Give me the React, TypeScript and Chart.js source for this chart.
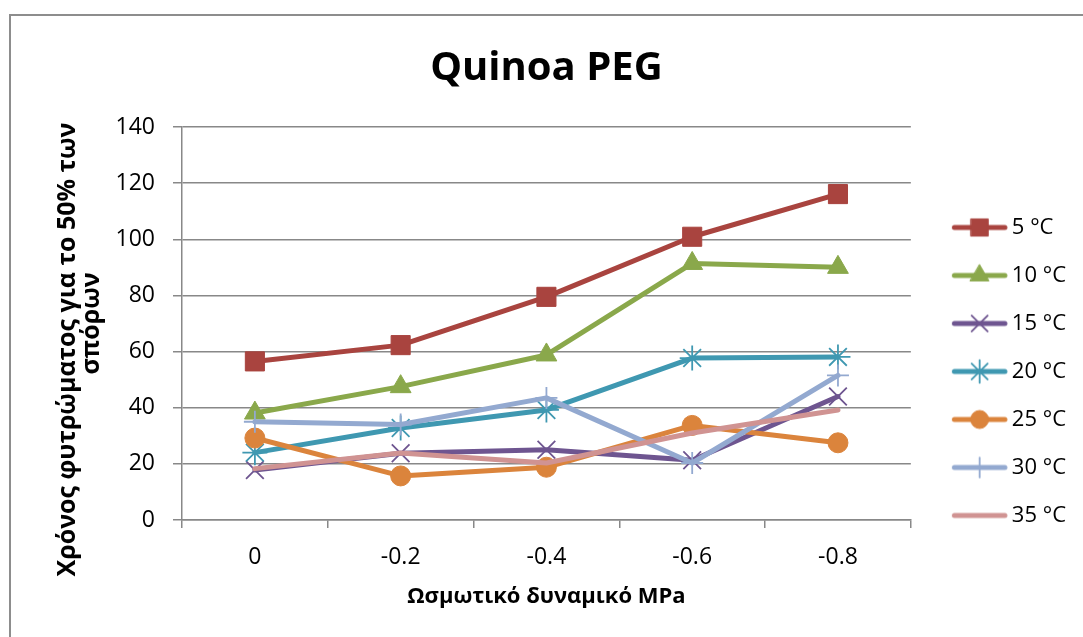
import React, { useEffect, useRef } from 'react';
import { Chart, registerables } from 'chart.js';
import { drawPoint } from 'chart.js/helpers';

Chart.register(...registerables);

const categories = ['0', '-0.2', '-0.4', '-0.6', '-0.8'];
const seriesLabels = ['5 °C', '10 °C', '15 °C', '20 °C', '25 °C', '30 °C', '35 °C'];
const t5 = [56.5, 62.3, 79.5, 100.9, 116.1];
const t10 = [38.1, 47.5, 58.8, 91.4, 90.0];
const t15 = [17.8, 23.8, 25.0, 21.3, 44.0];
const t20 = [24.0, 32.8, 39.2, 57.7, 58.1];
const t25 = [29.2, 15.7, 18.8, 33.7, 27.5];
const t30 = [35.0, 34.0, 43.5, 20.3, 51.5];
const t35 = [18.3, 23.9, 20.3, 31.0, 39.2];
const yMin = 0;
const yMax = 140;
const yStep = 20;

const NB = '\u00A0';
const titleText = 'Quinoa PEG';
const xTitle = 'Ωσμωτικό δυναμικό MPa';
const yTitle = ['Χρόνος φυτρώματος για το 50% των' + NB.repeat(8), 'σπόρων'];

const FONT = "'Open Sans', 'DejaVu Sans', sans-serif";
const colors = ['#A9443F', '#8AA84B', '#6E5590', '#3F98B1', '#DB843C', '#93A9D0', '#D09392'];
const styles: any[] = ['rect', 'triangle', 'crossRot', 'star', 'circle', 'cross', false];
const radii = [13.5, 12, 12.5, 12.5, 10, 11, 0];
const pointBorders = [1, 1, 1.8, 1.8, 1, 1.8, 0];

const BOX_W = 64;
const IMG_W = 80;
const IMG_H = 30;

function makeLegendImage(i: number) {
  const c = document.createElement('canvas');
  c.width = IMG_W;
  c.height = IMG_H;
  const ctx = c.getContext('2d')!;
  const x0 = 25.5;
  const x1 = 76;
  const cy = IMG_H / 2;
  ctx.strokeStyle = colors[i];
  ctx.lineWidth = 5;
  ctx.lineCap = 'round';
  ctx.beginPath();
  ctx.moveTo(x0, cy);
  ctx.lineTo(x1, cy);
  ctx.stroke();
  if (styles[i]) {
    ctx.fillStyle = colors[i];
    ctx.strokeStyle = colors[i];
    ctx.lineWidth = pointBorders[i];
    drawPoint(ctx, { pointStyle: styles[i], radius: radii[i] * 0.9, rotation: 0, borderWidth: pointBorders[i] } as any, (x0 + x1) / 2, cy);
  }
  return c;
}

export default function App() {
  const ref = useRef<HTMLCanvasElement>(null);
  useEffect(() => {
    const canvas = ref.current!;
    const values = [t5, t10, t15, t20, t25, t30, t35];
    const imgs = values.map((_, i) => makeLegendImage(i));
    const datasets = values.map((v, i) => ({
      label: seriesLabels[i],
      data: v,
      borderColor: colors[i],
      backgroundColor: colors[i],
      borderWidth: 5,
      borderJoinStyle: 'round' as const,
      borderCapStyle: 'round' as const,
      pointStyle: styles[i],
      pointRadius: radii[i],
      pointHoverRadius: radii[i],
      pointBorderWidth: pointBorders[i],
      pointBackgroundColor: colors[i],
      pointBorderColor: colors[i],
      tension: 0,
      order: 20 - i,
    }));
    const tickFont = { family: FONT, size: 23 };
    const chart = new Chart(canvas, {
      type: 'line',
      data: { labels: categories, datasets },
      options: {
        responsive: false,
        animation: false,
        devicePixelRatio: 1,
        layout: { padding: { left: 0, right: 7, top: 0, bottom: 0 } },
        plugins: {
          title: {
            display: true,
            fullSize: false,
            text: titleText,
            color: '#000',
            font: { family: FONT, size: 40, weight: 'bold' },
            padding: { top: 45, bottom: 34 },
          },
          legend: {
            position: 'right',
            align: 'center',
            title: { display: true, text: ' ', font: { family: FONT, size: 10, lineHeight: 1.2 }, padding: { top: 94, bottom: 0 } },
            labels: {
              usePointStyle: true,
              pointStyleWidth: BOX_W,
              padding: 26,
              color: '#000',
              font: { family: FONT, size: 22 },
              generateLabels: (ch: any) =>
                ch.data.datasets.map((ds: any, i: number) => ({
                  text: ds.label,
                  pointStyle: imgs[i],
                  fillStyle: ds.borderColor,
                  strokeStyle: ds.borderColor,
                  lineWidth: 0,
                  hidden: false,
                  datasetIndex: i,
                  fontColor: '#000',
                })),
            },
          },
          tooltip: { enabled: false },
        },
        scales: {
          x: {
            type: 'category',
            offset: true,
            afterFit: (s: any) => {
              s.height = 117;
            },
            grid: { offset: true, drawOnChartArea: false, drawTicks: true, tickLength: 8, color: '#888', lineWidth: 1.5 },
            border: { display: true, color: '#888', width: 1.5 },
            ticks: { font: tickFont, color: '#000', padding: 16, maxRotation: 0 },
            title: {
              display: true,
              text: xTitle,
              color: '#000',
              font: { family: FONT, size: 22, weight: 'bold' },
              padding: { top: 0, bottom: 27 },
            },
          },
          y: {
            min: yMin,
            max: yMax,
            afterFit: (s: any) => {
              s.width = 182;
            },
            ticks: { stepSize: yStep, font: tickFont, color: '#000', padding: 18 },
            grid: { color: '#888', lineWidth: 1.5, tickLength: 9, drawTicks: true },
            border: { display: true, color: '#888', width: 1.5 },
            title: {
              display: true,
              text: yTitle,
              color: '#000',
              font: { family: FONT, size: 25, weight: 'bold', lineHeight: 0.96 },
              padding: { top: 56, bottom: 0 },
            },
          },
        },
      } as any,
    });
    return () => chart.destroy();
  }, []);
  return (
    <div style={{ position: 'fixed', left: 0, top: 0, width: 1083, height: 637, background: '#fff', overflow: 'hidden' }}>
      <div
        style={{
          position: 'absolute',
          left: 9,
          top: 14,
          right: -10,
          bottom: -10,
          borderLeft: '2px solid #8d8d8d',
          borderTop: '2px solid #8d8d8d',
        }}
      />
      <canvas ref={ref} width={1083} height={637} style={{ position: 'absolute', left: 0, top: 0 }} />
    </div>
  );
}
